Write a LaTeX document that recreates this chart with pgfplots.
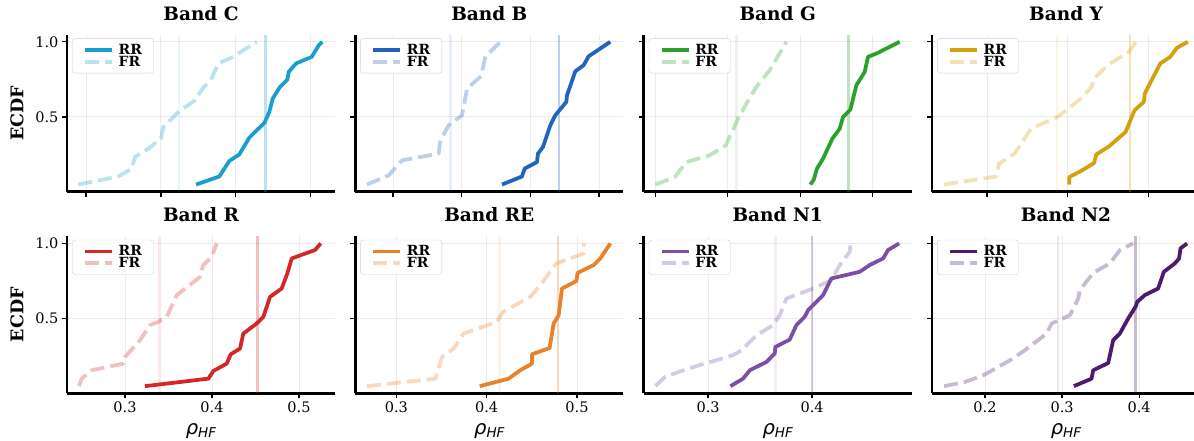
\documentclass[border=0pt]{standalone}
\usepackage{fontspec}
\setmainfont{DejaVu Serif}
\newfontfamily\dvsans{DejaVu Sans}
\usepackage{pgfplots}
\pgfplotsset{compat=1.18}

\definecolor{cC}{HTML}{1A9FCC}
\definecolor{cB}{HTML}{2262C0}
\definecolor{cG}{HTML}{2CA02C}
\definecolor{cY}{HTML}{D4A00C}
\definecolor{cR}{HTML}{D62728}
\definecolor{cRE}{HTML}{E8822A}
\definecolor{cN1}{HTML}{7B4FA6}
\definecolor{cN2}{HTML}{4B1C6E}

\pgfplotsset{
  panel/.style={
    scale only axis, width=268pt, height=157pt,
    ymin=0.0025, ymax=1.0475,
    axis x line*=bottom, axis y line*=left,
    axis line style={line width=2.5pt, black, -},
    every outer x axis line/.append style={-},
    every outer y axis line/.append style={-},
    tick align=outside,
    major tick length=5pt,
    every tick/.style={black, line width=1.2pt},
    grid=major,
    major grid style={black!8, line width=0.9pt},
    ytick={0.5,1}, yticklabels={},
    xticklabels={},
    tick label style={font=\fontsize{14.5}{16}\selectfont},
    title style={at={(axis description cs:0.5,1.055)}, anchor=base,
      font=\fontsize{18.5}{21}\selectfont\bfseries},
    legend style={at={(axis description cs:0.019,0.978)}, anchor=north west,
      draw=black!18, rounded corners=3pt, fill=white,
      font=\fontsize{14}{14}\selectfont\bfseries,
      inner xsep=11pt, inner ysep=5pt, row sep=-1pt,
      nodes={inner sep=0.6pt},
      /tikz/every odd column/.append style={column sep=4pt}},
    legend cell align=left,
    legend image code/.code={\draw[##1] (0pt,0pt) -- (27pt,0pt);},
  },
  firstcol/.style={yticklabels={0.5,1.0}, ylabel={ECDF},
    ylabel style={at={(axis description cs:-0.187,0.5)}, anchor=center,
      font=\fontsize{17.5}{20}\selectfont\bfseries}},
  bottomrow/.style={
    xlabel={{\dvsans\itshape\fontsize{19.5}{22}\selectfont ρ\raisebox{-0.3ex}{\fontsize{13.5}{14}\selectfont HF}}},
    xlabel style={at={(axis description cs:0.5,-0.262)}, anchor=base}},
  rr/.style={line width=3.75pt, line join=round},
  fr/.style={line width=3.75pt, line join=round, dash pattern=on 14pt off 6pt, draw opacity=0.3},
  vrr/.style={line width=2.5pt, draw opacity=0.3, forget plot},
  vfr/.style={line width=2.5pt, draw opacity=0.1, forget plot},
}

\begin{document}
\begin{tikzpicture}
\path[use as bounding box] (0,0) rectangle (1194pt,441pt);

% ---- row 1 ----
\begin{axis}[panel, firstcol, at={(67pt,249.3pt)}, anchor=south west,
  title={Band C}, xmin=0.1746, xmax=0.5324, xtick={0.2,0.3,0.4,0.5}]
\addplot[cC, vfr] coordinates {(0.3242,0.0025)(0.3242,1.0475)};
\addplot[cC, vrr] coordinates {(0.4399,0.0025)(0.4399,1.0475)};
\addplot[cC, rr] coordinates {(0.3469,0.05)(0.3780,0.104)(0.3913,0.207)(0.4047,0.251)(0.4180,0.362)(0.4279,0.411)(0.4381,0.46)(0.4447,0.533)(0.4492,0.622)(0.4590,0.70)(0.4688,0.749)(0.4706,0.80)(0.4804,0.856)(0.5013,0.90)(0.5111,0.98)(0.5155,1.0)};
\addplot[cC, fr] coordinates {(0.1897,0.05)(0.2431,0.104)(0.2610,0.156)(0.2654,0.233)(0.2832,0.289)(0.3000,0.356)(0.3031,0.433)(0.3232,0.533)(0.3455,0.611)(0.3566,0.696)(0.3665,0.744)(0.3766,0.856)(0.3967,0.90)(0.4100,0.944)(0.4279,1.0)};
\legend{RR,FR}
\end{axis}

\begin{axis}[panel, at={(355.3pt,249.3pt)}, anchor=south west,
  title={Band B}, xmin=0.1451, xmax=0.5354, xtick={0.2,0.3,0.4,0.5}]
\addplot[cB, vfr] coordinates {(0.2834,0.0025)(0.2834,1.0475)};
\addplot[cB, vrr] coordinates {(0.4417,0.0025)(0.4417,1.0475)};
\addplot[cB, rr] coordinates {(0.3587,0.05)(0.3879,0.104)(0.3917,0.156)(0.4097,0.20)(0.4111,0.256)(0.4184,0.30)(0.4291,0.444)(0.4363,0.511)(0.4524,0.60)(0.4534,0.644)(0.4655,0.804)(0.4776,0.844)(0.4849,0.904)(0.5164,1.0)};
\addplot[cB, fr] coordinates {(0.1621,0.05)(0.1936,0.111)(0.2131,0.211)(0.2665,0.256)(0.2689,0.344)(0.2810,0.444)(0.3005,0.511)(0.3078,0.689)(0.3282,0.771)(0.3344,0.90)(0.3563,1.0)};
\legend{RR,FR}
\end{axis}

\begin{axis}[panel, at={(643.7pt,249.3pt)}, anchor=south west,
  title={Band G}, xmin=0.1838, xmax=0.5539, xtick={0.2,0.3,0.4,0.5}]
\addplot[cG, vfr] coordinates {(0.3122,0.0025)(0.3122,1.0475)};
\addplot[cG, vrr] coordinates {(0.4664,0.0025)(0.4664,1.0475)};
\addplot[cG, rr] coordinates {(0.4140,0.05)(0.4186,0.082)(0.4231,0.156)(0.4314,0.222)(0.4444,0.356)(0.4545,0.422)(0.4590,0.50)(0.4692,0.549)(0.4775,0.711)(0.4890,0.80)(0.4935,0.90)(0.5051,0.922)(0.5373,1.0)};
\addplot[cG, fr] coordinates {(0.2000,0.05)(0.2266,0.10)(0.2428,0.20)(0.2749,0.244)(0.2971,0.311)(0.3141,0.489)(0.3256,0.589)(0.3394,0.70)(0.3578,0.811)(0.3809,1.0)};
\legend{RR,FR}
\end{axis}

\begin{axis}[panel, at={(932pt,249.3pt)}, anchor=south west,
  title={Band Y}, xmin=0.1320, xmax=0.4634, xtick={0.2,0.3,0.4}]
\addplot[cY, vfr] coordinates {(0.2865,0.0025)(0.2865,1.0475)};
\addplot[cY, vrr] coordinates {(0.3767,0.0025)(0.3767,1.0475)};
\addplot[cY, rr] coordinates {(0.3017,0.05)(0.3017,0.10)(0.3160,0.14)(0.3324,0.193)(0.3352,0.251)(0.3508,0.304)(0.3714,0.40)(0.3824,0.544)(0.3939,0.60)(0.3951,0.656)(0.4143,0.856)(0.4267,0.90)(0.4348,0.96)(0.4483,1.0)};
\addplot[cY, fr] coordinates {(0.1468,0.05)(0.2116,0.104)(0.2148,0.189)(0.2340,0.256)(0.2476,0.367)(0.2546,0.422)(0.2873,0.50)(0.3160,0.622)(0.3296,0.70)(0.3312,0.749)(0.3488,0.844)(0.3754,0.933)(0.3844,1.0)};
\legend{RR,FR}
\end{axis}

% ---- row 2 ----
\begin{axis}[panel, firstcol, bottomrow, at={(67pt,47.7pt)}, anchor=south west,
  title={Band R}, xmin=0.2333, xmax=0.5414, xtick={0.3,0.4,0.5}, xticklabels={0.3,0.4,0.5}]
\addplot[cR, vfr] coordinates {(0.3395,0.0025)(0.3395,1.0475)};
\addplot[cR, vrr] coordinates {(0.4525,0.0025)(0.4525,1.0475)};
\addplot[cR, rr] coordinates {(0.3230,0.05)(0.3958,0.10)(0.4015,0.151)(0.4169,0.20)(0.4215,0.262)(0.4322,0.30)(0.4360,0.40)(0.4513,0.467)(0.4590,0.511)(0.4667,0.644)(0.4801,0.70)(0.4866,0.80)(0.4916,0.90)(0.5184,0.956)(0.5250,1.0)};
\addplot[cR, fr] coordinates {(0.2471,0.05)(0.2502,0.10)(0.2617,0.156)(0.2981,0.20)(0.3000,0.244)(0.3172,0.356)(0.3287,0.456)(0.3383,0.478)(0.3479,0.511)(0.3594,0.656)(0.3728,0.716)(0.3862,0.778)(0.3900,0.856)(0.3996,0.911)(0.4054,1.0)};
\legend{RR,FR}
\end{axis}

\begin{axis}[panel, bottomrow, at={(355.3pt,47.7pt)}, anchor=south west,
  title={Band RE}, xmin=0.2546, xmax=0.5513, xtick={0.3,0.4,0.5}, xticklabels={0.3,0.4,0.5}]
\addplot[cRE, vfr] coordinates {(0.4144,0.0025)(0.4144,1.0475)};
\addplot[cRE, vrr] coordinates {(0.4790,0.0025)(0.4790,1.0475)};
\addplot[cRE, rr] coordinates {(0.3923,0.05)(0.4244,0.10)(0.4373,0.156)(0.4502,0.20)(0.4502,0.262)(0.4697,0.304)(0.4742,0.467)(0.4797,0.522)(0.4834,0.70)(0.4993,0.749)(0.5007,0.804)(0.5185,0.856)(0.5258,0.90)(0.5369,1.0)};
\addplot[cRE, fr] coordinates {(0.2675,0.05)(0.3432,0.10)(0.3506,0.244)(0.3635,0.30)(0.3745,0.40)(0.4114,0.478)(0.4181,0.544)(0.4483,0.644)(0.4594,0.722)(0.4771,0.867)(0.5074,0.933)(0.5074,1.0)};
\legend{RR,FR}
\end{axis}

\begin{axis}[panel, bottomrow, at={(643.7pt,47.7pt)}, anchor=south west,
  title={Band N1}, xmin=0.2381, xmax=0.4958, xtick={0.3,0.4}, xticklabels={0.3,0.4}]
\addplot[cN1, vfr] coordinates {(0.3647,0.0025)(0.3647,1.0475)};
\addplot[cN1, vrr] coordinates {(0.4000,0.0025)(0.4000,1.0475)};
\addplot[cN1, rr] coordinates {(0.3215,0.05)(0.3337,0.10)(0.3401,0.156)(0.3561,0.211)(0.3641,0.267)(0.3647,0.311)(0.3785,0.36)(0.3849,0.456)(0.3929,0.511)(0.3962,0.556)(0.4106,0.656)(0.4186,0.767)(0.4458,0.811)(0.4554,0.856)(0.4683,0.90)(0.4731,0.956)(0.4837,1.0)};
\addplot[cN1, fr] coordinates {(0.2494,0.05)(0.2583,0.111)(0.2808,0.167)(0.3240,0.256)(0.3321,0.289)(0.3465,0.389)(0.3625,0.456)(0.3689,0.522)(0.3753,0.633)(0.4010,0.70)(0.4186,0.756)(0.4266,0.856)(0.4362,0.944)(0.4369,1.0)};
\legend{RR,FR}
\end{axis}

\begin{axis}[panel, bottomrow, at={(932pt,47.7pt)}, anchor=south west,
  title={Band N2}, xmin=0.1313, xmax=0.4789, xtick={0.2,0.3,0.4}, xticklabels={0.2,0.3,0.4}]
\addplot[cN2, vfr] coordinates {(0.2950,0.0025)(0.2950,1.0475)};
\addplot[cN2, vrr] coordinates {(0.3953,0.0025)(0.3953,1.0475)};
\addplot[cN2, rr] coordinates {(0.3153,0.05)(0.3382,0.10)(0.3404,0.156)(0.3598,0.204)(0.3663,0.356)(0.3749,0.40)(0.3857,0.50)(0.3957,0.582)(0.3974,0.611)(0.4073,0.656)(0.4246,0.70)(0.4320,0.811)(0.4462,0.867)(0.4518,0.90)(0.4536,0.967)(0.4622,1.0)};
\addplot[cN2, fr] coordinates {(0.1469,0.05)(0.1741,0.078)(0.1978,0.122)(0.2324,0.222)(0.2518,0.289)(0.2799,0.40)(0.2864,0.467)(0.3102,0.522)(0.3210,0.633)(0.3231,0.689)(0.3404,0.804)(0.3620,0.867)(0.3749,0.956)(0.3922,1.0)};
\legend{RR,FR}
\end{axis}
\end{tikzpicture}
\end{document}
